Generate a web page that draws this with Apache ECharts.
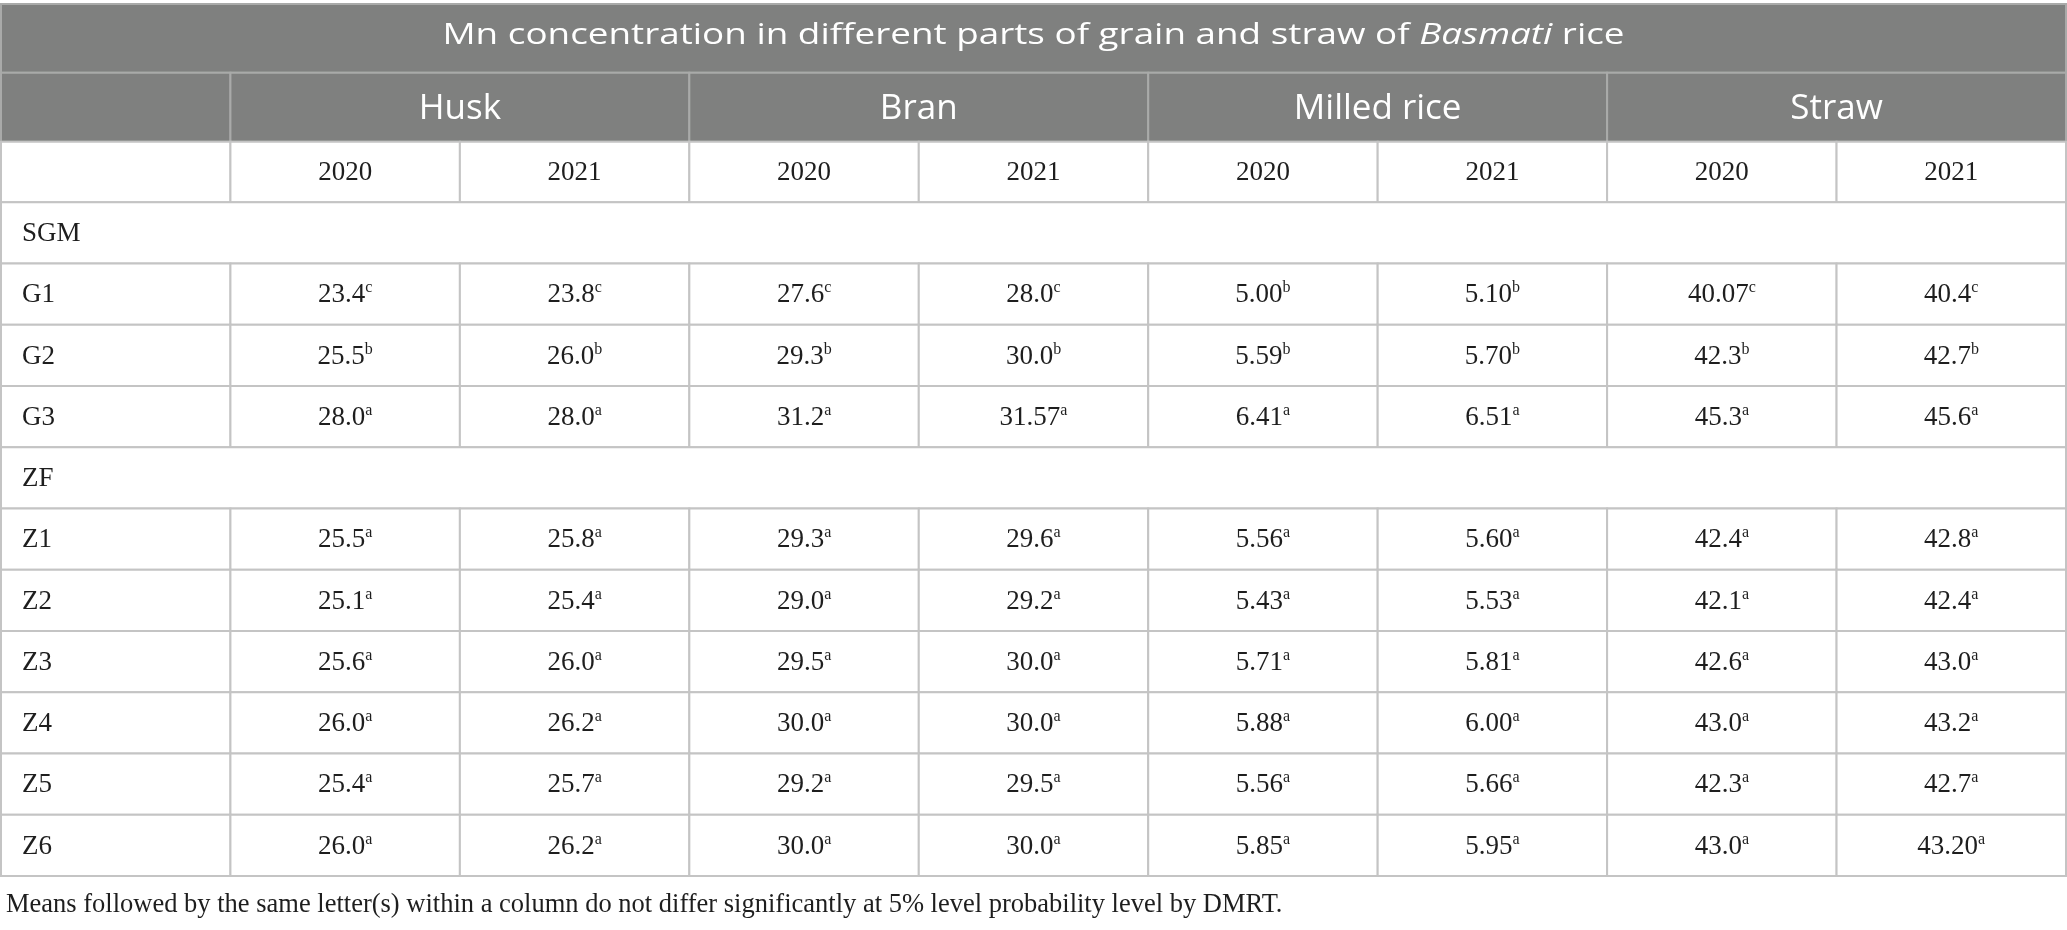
<!DOCTYPE html>
<html>
<head>
<meta charset="utf-8">
<script src="https://cdn.jsdelivr.net/npm/echarts@6/dist/echarts.min.js"></script>
<style>
  html, body { margin: 0; padding: 0; background: #fff; }
  #chart { width: 2067px; height: 930px; }
</style>
</head>
<body>
<div id="chart"></div>
<script>
// table text
const tableTitle = 'Mn concentration in different parts of grain and straw of '
const tableTitleItalic = 'Basmati'
const tableTitleEnd = ' rice'
const partNames = ['Husk', 'Bran', 'Milled rice', 'Straw']
const years = ['2020', '2021']
const footnote = 'Means followed by the same letter(s) within a column do not differ significantly at 5% level probability level by DMRT.'

// SGM block
const sgmLabels = ['G1', 'G2', 'G3']
const sgmValues = [
  ['23.4', '23.8', '27.6', '28.0', '5.00', '5.10', '40.07', '40.4'],
  ['25.5', '26.0', '29.3', '30.0', '5.59', '5.70', '42.3', '42.7'],
  ['28.0', '28.0', '31.2', '31.57', '6.41', '6.51', '45.3', '45.6'],
]
const sgmLetters = [
  ['c', 'c', 'c', 'c', 'b', 'b', 'c', 'c'],
  ['b', 'b', 'b', 'b', 'b', 'b', 'b', 'b'],
  ['a', 'a', 'a', 'a', 'a', 'a', 'a', 'a'],
]

// ZF block
const zfLabels = ['Z1', 'Z2', 'Z3', 'Z4', 'Z5', 'Z6']
const zfValues = [
  ['25.5', '25.8', '29.3', '29.6', '5.56', '5.60', '42.4', '42.8'],
  ['25.1', '25.4', '29.0', '29.2', '5.43', '5.53', '42.1', '42.4'],
  ['25.6', '26.0', '29.5', '30.0', '5.71', '5.81', '42.6', '43.0'],
  ['26.0', '26.2', '30.0', '30.0', '5.88', '6.00', '43.0', '43.2'],
  ['25.4', '25.7', '29.2', '29.5', '5.56', '5.66', '42.3', '42.7'],
  ['26.0', '26.2', '30.0', '30.0', '5.85', '5.95', '43.0', '43.20'],
]
const zfLetters = zfValues.map((row) => row.map(() => 'a'))

// layout: row heights in px-like units (title, header, years, then body rows)
const HEADER_ROWS = [68.7, 69, 60.6]
const BODY_ROW = 61.25
const NCOLS = 1 + partNames.length * years.length

const cells = []
let rowTop = 0
const addRow = (h, list) => {
  list.forEach((c) => cells.push({ ...c, y0: rowTop, y1: rowTop + h }))
  rowTop += h
}

addRow(HEADER_ROWS[0], [{ x0: 0, x1: NCOLS, kind: 'title' }])
addRow(HEADER_ROWS[1], [
  { x0: 0, x1: 1, kind: 'head', text: '' },
  ...partNames.map((p, i) => ({ x0: 1 + i * 2, x1: 3 + i * 2, kind: 'head', text: p })),
])
const yearCells = [{ x0: 0, x1: 1, kind: 'body', text: '' }]
partNames.forEach((p, i) => years.forEach((y, j) => {
  yearCells.push({ x0: 1 + i * 2 + j, x1: 2 + i * 2 + j, kind: 'body', text: y })
}))
addRow(HEADER_ROWS[2], yearCells)

const addBlock = (name, labels, values, letters) => {
  addRow(BODY_ROW, [{ x0: 0, x1: NCOLS, kind: 'label', text: name }])
  labels.forEach((lab, r) => {
    addRow(BODY_ROW, [
      { x0: 0, x1: 1, kind: 'label', text: lab },
      ...values[r].map((v, k) => ({ x0: 1 + k, x1: 2 + k, kind: 'value', text: v, sup: letters[r][k] })),
    ])
  })
}
addBlock('SGM', sgmLabels, sgmValues, sgmLetters)
addBlock('ZF', zfLabels, zfValues, zfLetters)
const tableHeight = rowTop

const SERIF = "'Liberation Serif', 'Times New Roman', serif"
const SANS = "'Open Sans', 'Noto Sans', sans-serif"
const INK = '#1e1e1e'

const renderItem = (params, api) => {
  const c = cells[api.value(4)]
  const p0 = api.coord([api.value(0), api.value(1)])
  const p1 = api.coord([api.value(2), api.value(3)])
  const x = p0[0]
  const y = p0[1]
  const w = p1[0] - p0[0]
  const h = p1[1] - p0[1]
  const cy = y + h / 2
  const dark = c.kind === 'title' || c.kind === 'head'
  const children = [{
    type: 'rect',
    shape: { x, y, width: w, height: h },
    style: { fill: dark ? '#7f807f' : '#fff', stroke: dark ? '#a9aaa9' : '#c4c4c4', lineWidth: 2 },
  }]
  if (c.kind === 'title') {
    // the source face is wider than Open Sans, so stretch it a little
    children.push({
      type: 'text',
      x: x + w / 2,
      y: cy - 3,
      scaleX: 1.27,
      style: {
        text: `{n|${tableTitle}}{i|${tableTitleItalic}}{n|${tableTitleEnd}}`,
        x: 0, y: 0, align: 'center', verticalAlign: 'middle',
        rich: {
          n: { fontFamily: SANS, fontSize: 29, fill: '#fff' },
          i: { fontFamily: SANS, fontSize: 29, fill: '#fff', fontStyle: 'italic' },
        },
      },
    })
    return { type: 'group', children }
  }
  let style = null
  if (c.kind === 'head' && c.text) {
    style = {
      text: c.text, x: x + w / 2, y: cy + 2, align: 'center', verticalAlign: 'middle',
      fontFamily: SANS, fontSize: 35, fill: '#fff',
    }
  } else if (c.kind === 'label') {
    style = {
      text: c.text, x: x + 21, y: cy + 1, align: 'left', verticalAlign: 'middle',
      fontFamily: SERIF, fontSize: 27, fill: INK,
    }
  } else if (c.kind === 'body' && c.text) {
    style = {
      text: c.text, x: x + w / 2, y: cy + 1, align: 'center', verticalAlign: 'middle',
      fontFamily: SERIF, fontSize: 27, fill: INK,
    }
  } else if (c.kind === 'value') {
    style = {
      text: `{v|${c.text}}{s|${c.sup}}`,
      x: x + w / 2, y: cy + 1, align: 'center', verticalAlign: 'middle',
      rich: {
        v: { fontFamily: SERIF, fontSize: 27, lineHeight: 30, fill: INK },
        s: { fontFamily: SERIF, fontSize: 16, lineHeight: 16, fill: INK, verticalAlign: 'top' },
      },
    }
  }
  if (style) children.push({ type: 'text', style })
  return { type: 'group', children }
}

const chart = echarts.init(document.getElementById('chart'))
chart.setOption({
  backgroundColor: '#fff',
  animation: false,
  title: {
    text: footnote,
    left: 1,
    top: 887,
    textStyle: { fontFamily: SERIF, fontSize: 26.5, fontWeight: 'normal', color: INK },
  },
  grid: { left: 1, right: 1, top: 4, height: tableHeight },
  xAxis: { type: 'value', min: 0, max: NCOLS, show: false },
  yAxis: { type: 'value', min: 0, max: tableHeight, inverse: true, show: false },
  series: [{
    type: 'custom',
    renderItem,
    clip: false,
    encode: { x: [0, 2], y: [1, 3] },
    data: cells.map((c, i) => [c.x0, c.y0, c.x1, c.y1, i]),
  }],
})
</script>
</body>
</html>
